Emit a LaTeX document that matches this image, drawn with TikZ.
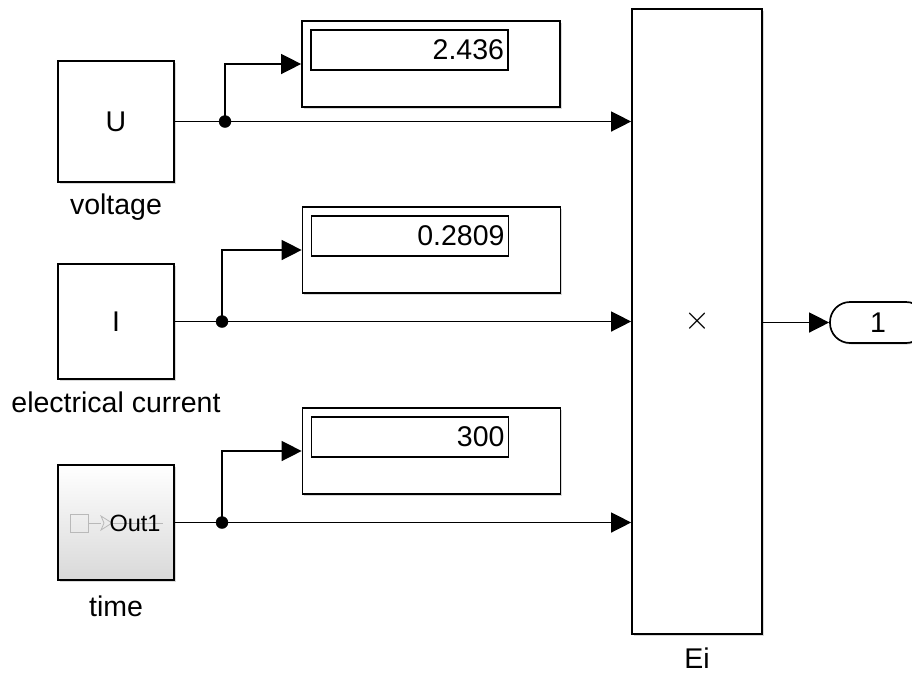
\documentclass[tikz,border=0pt]{standalone}
\usepackage{fontspec}
\usepackage{graphicx}
\setmainfont{Liberation Sans}
\usetikzlibrary{arrows.meta,shadows}

\begin{document}
\begin{tikzpicture}[x=1pt, y=-1pt, >={Triangle[length=20pt,width=20pt]},
    lbl/.style={font=\fontsize{28.5}{34}\selectfont},
    block/.style={draw, line width=1.7pt, fill=white, inner sep=0pt, lbl,
        drop shadow={shadow xshift=1.5pt, shadow yshift=-1.5pt, opacity=0.3}},
    srcblock/.style={block, minimum width=116pt, minimum height=118pt},
    disp/.style={block, minimum width=258pt, minimum height=86pt},
    screen/.style={draw, line width=1.2pt, minimum width=197pt, minimum height=40pt,
        inner sep=0pt, text width=189pt, align=right, lbl},
    sig/.style={line width=1.4pt}]
    % Frame
    \clip (0,0) rectangle (912,673);

    % Source blocks
    \node[srcblock, minimum height=121pt] (U) at (116,121.5) {U};
    \node[srcblock, minimum height=115pt] (I) at (116,321.5) {I};
    \node[srcblock, minimum height=115pt, top color=white, bottom color=black!15] (T) at (116,522.5) {};
    \node[lbl] (Ulbl) at (116,207) {voltage};
    \node[lbl] (Ilbl) at (116,402) {electrical current};
    \node[lbl] (Tlbl) at (116,606) {time};

    % Subsystem icon inside time block
    \draw[gray!55, line width=0.8pt] (70,514) rectangle (88,532);
    \draw[gray!55, line width=0.8pt] (88,523) -- (101,523);
    \draw[gray!55, line width=0.8pt] (101,516) -- (112,523) -- (101,530) -- (104,523) -- cycle;
    \draw[gray!55, line width=0.8pt] (112,523) -- (163,523);
    \node[font=\fontsize{23.5}{28}\selectfont] (Tout) at (135,523) {Out1};

    % Displays
    \node[disp] (D1) at (431,64) {};
    \node[disp] (D2) at (431.5,250) {};
    \node[disp] (D3) at (431.5,451) {};
    \node[screen] (S1) at (409.5,50) {2.436};
    \node[screen] (S2) at (410,236) {0.2809};
    \node[screen] (S3) at (410,437) {300};

    % Product block and outport
    \node[block, minimum width=130pt, minimum height=625pt, font=\normalsize] (Ei) at (697,321.5) {\raisebox{-6pt}{\resizebox{26pt}{!}{$\times$}}};
    \node[lbl] (Eilbl) at (697,658) {Ei};
    \node[block, rounded corners=20pt, minimum width=96pt, minimum height=41pt] (Out) at (878,322.5) {1};

    % Branch points
    \coordinate (bU) at (225,121.5);
    \coordinate (bI) at (222,321.5);
    \coordinate (bT) at (222,522.5);

    % Signal lines
    \draw[sig, ->] (U.east) -- (U.east -| Ei.west);
    \draw[sig, ->] (I.east) -- (I.east -| Ei.west);
    \draw[sig, ->] (T.east) -- (T.east -| Ei.west);
    \draw[sig, ->] (bU) |- (D1.west);
    \draw[sig, ->] (bI) |- (D2.west);
    \draw[sig, ->] (bT) |- (D3.west);
    \draw[sig, ->] (Ei.east |- Out.west) -- (Out.west);

    \filldraw (bU) circle (6);
    \filldraw (bI) circle (6);
    \filldraw (bT) circle (6);
\end{tikzpicture}
\end{document}
